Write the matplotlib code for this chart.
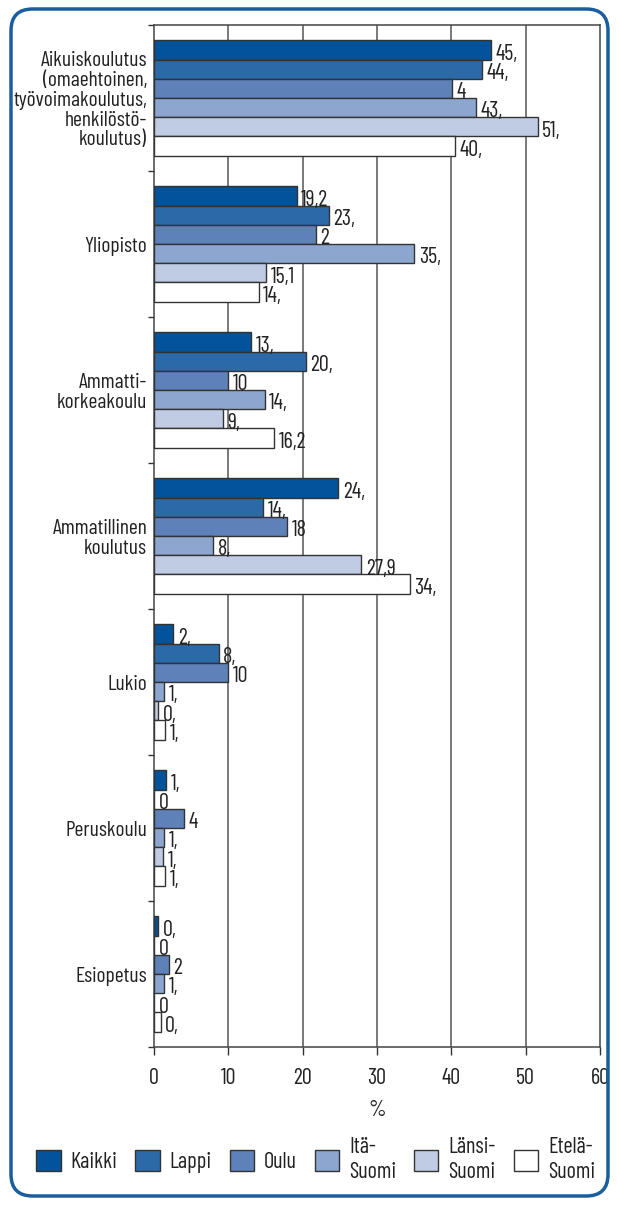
import matplotlib
matplotlib.use("Agg")
import matplotlib.pyplot as plt
import numpy as np
from matplotlib.patches import FancyBboxPatch, Patch

plt.rcParams['font.family'] = ['Barlow Condensed', 'Roboto Condensed', 'DejaVu Sans']

categories = ["Aikuiskoulutus\n(omaehtoinen,\ntyövoimakoulutus,\nhenkilöstö-\nkoulutus)",
              "Yliopisto", "Ammatti-\nkorkeakoulu", "Ammatillinen\nkoulutus",
              "Lukio", "Peruskoulu", "Esiopetus"]
series = ["Kaikki", "Lappi", "Oulu", "Itä-\nSuomi", "Länsi-\nSuomi", "Etelä-\nSuomi"]
kaikki = [45.3, 19.2, 13.1, 24.8, 2.6, 1.6, 0.6]
lappi = [44.1, 23.5, 20.4, 14.7, 8.7, 0.0, 0.0]
oulu = [40.1, 21.8, 10.0, 17.9, 10.0, 4.0, 2.0]
ita = [43.3, 35.0, 14.9, 8.0, 1.4, 1.4, 1.4]
lansi = [51.6, 15.1, 9.3, 27.9, 0.6, 1.2, 0.0]
etela = [40.5, 14.1, 16.2, 34.4, 1.5, 1.5, 0.9]
labels_kaikki = ["45,", "19,2", "13,", "24,", "2,", "1,", "0,"]
labels_lappi = ["44,", "23,", "20,", "14,", "8,", "0", "0"]
labels_oulu = ["4", "2", "10", "18", "10", "4", "2"]
labels_ita = ["43,", "35,", "14,", "8,", "1,", "1,", "1,"]
labels_lansi = ["51,", "15,1", "9,", "27,9", "0,", "1,", "0"]
labels_etela = ["40,", "14,", "16,2", "34,", "1,", "1,", "0,"]
xticks = [0, 10, 20, 30, 40, 50, 60]

values = [kaikki, lappi, oulu, ita, lansi, etela]
labels = [labels_kaikki, labels_lappi, labels_oulu, labels_ita, labels_lansi, labels_etela]
colors = ["#03539A", "#2C69A9", "#5D81B8", "#8CA6D0", "#C0CCE4", "#FFFFFF"]

FS = 16
W, H = 619, 1205
fig = plt.figure(figsize=(W / 100, H / 100), dpi=100)

# rounded border
border = FancyBboxPatch((11 / W, 9 / H), (W - 22) / W, (H - 18) / H,
                        boxstyle="round,pad=0,rounding_size=0.035",
                        transform=fig.transFigure, fill=False,
                        edgecolor="#1A5E9E", linewidth=2.5, mutation_aspect=W / H)
fig.patches.append(border)

ax = fig.add_axes([154 / W, 1 - 1047 / H, (600 - 154) / W, (1047 - 25) / H])

n = len(series)
h = 0.79 / n
y = np.arange(len(categories))
for j in range(n):
    pos = y + (j - (n - 1) / 2) * h
    ax.barh(pos, values[j], height=h, color=colors[j], edgecolor="#333333",
            linewidth=1.0, zorder=3)
    for k in range(len(categories)):
        ax.text(values[j][k] + 0.6, pos[k] + 0.03, labels[j][k], va="center", ha="left",
                fontsize=FS, color="#222222", zorder=4)

ax.set_xlim(0, 60)
ax.set_ylim(len(categories) - 0.5, -0.5)
ax.set_xticks(xticks)
ax.set_xticklabels([str(t) for t in xticks], fontsize=FS, color="#222222")
ax.tick_params(axis="x", length=6, width=1, pad=9, color="#333333")
ax.set_yticks(y)
ax.set_yticklabels(categories, fontsize=15.5, linespacing=1.05, color="#222222")
ax.tick_params(axis="y", length=0, pad=5)
ax.set_yticks(np.arange(-0.5, len(categories)), minor=True)
ax.tick_params(axis="y", which="minor", length=4, width=1, color="#333333")
for xv in xticks[1:-1]:
    ax.axvline(xv, color="#555555", linewidth=1.1, zorder=1)
for s in ax.spines.values():
    s.set_color("#444444")
    s.set_linewidth(1.1)
ax.set_xlabel("%", fontsize=FS, labelpad=8, color="#222222")

handles = [Patch(facecolor=colors[j], edgecolor="#333333", linewidth=1.0, label=series[j])
           for j in range(n)]
fig.legend(handles=handles, loc="center", bbox_to_anchor=(0.51, 1 - 1160 / H), ncol=6,
           frameon=False, handlelength=1.1, handleheight=1.1,
           handletextpad=0.45, columnspacing=0.8, borderaxespad=0, labelspacing=0,
           prop={'size': FS}, labelcolor="#222222")

fig.savefig("out.png", dpi=100)
